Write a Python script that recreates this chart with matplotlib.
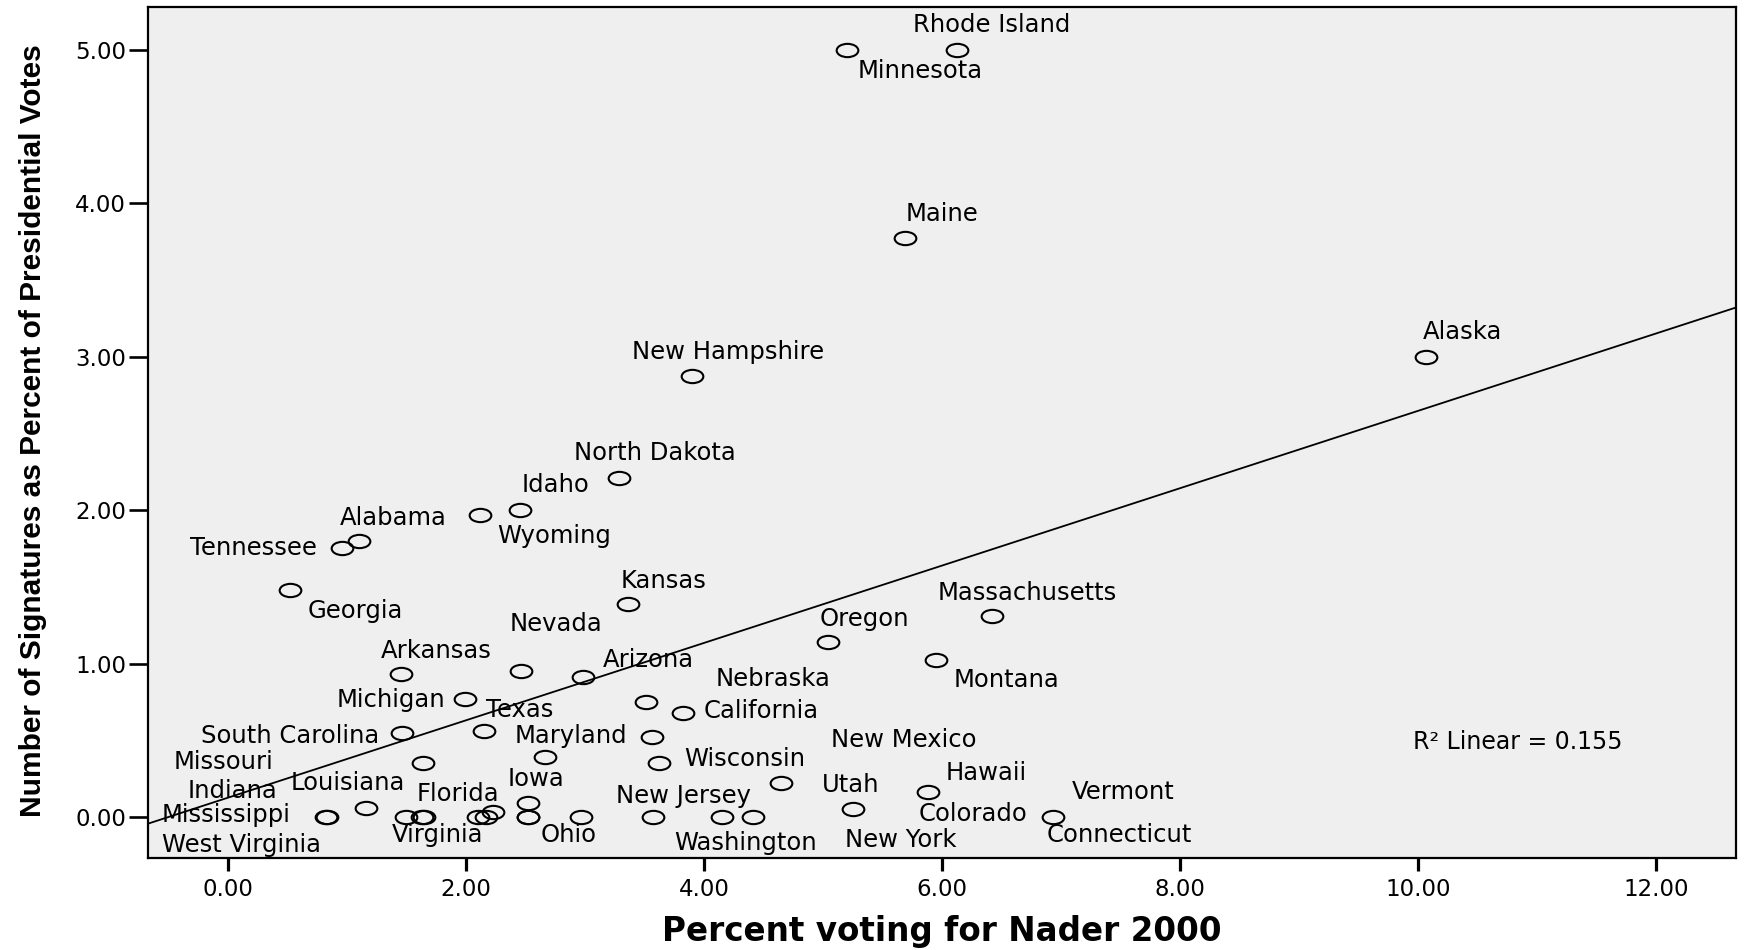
import numpy as np
import matplotlib
matplotlib.use('Agg')
import matplotlib.pyplot as plt
from matplotlib.path import Path
from matplotlib.transforms import Affine2D
from matplotlib import font_manager

# Nader 2000 share (%) and signatures needed as % of presidential votes, by state
states = ['Rhode Island', 'Minnesota', 'Maine', 'Alaska', 'New Hampshire',
          'North Dakota', 'Idaho', 'Wyoming', 'Alabama', 'Tennessee',
          'Georgia', 'Kansas', 'Massachusetts', 'Oregon', 'Montana',
          'Nevada', 'Arkansas', 'Arizona', 'Michigan', 'Nebraska',
          'California', 'Texas', 'South Carolina', 'New Mexico', 'Maryland',
          'Missouri', 'Wisconsin', 'Utah', 'Hawaii', 'Iowa',
          'Louisiana', 'Colorado', 'Mississippi', 'Indiana', 'Kentucky',
          'Florida', 'West Virginia', 'Pennsylvania', 'Virginia', 'Illinois',
          'Delaware', 'Ohio', 'New Jersey', 'New York', 'Washington',
          'Connecticut', 'Vermont']
nader_pct = [6.13, 5.20, 5.69, 10.07, 3.90,
             3.29, 2.45, 2.12, 1.10, 0.96,
             0.52, 3.36, 6.42, 5.04, 5.95,
             2.46, 1.45, 2.98, 1.99, 3.51,
             3.82, 2.15, 1.46, 3.56, 2.66,
             1.64, 3.62, 4.65, 5.88, 2.52,
             1.16, 5.25, 0.83, 0.82, 1.50,
             1.63, 1.65, 2.10, 2.17, 2.23,
             2.52, 2.52, 2.97, 3.57, 4.15,
             4.41, 6.93]
signatures_pct = [5.00, 5.00, 3.77, 3.00, 2.87,
                  2.21, 2.00, 1.97, 1.80, 1.75,
                  1.48, 1.39, 1.31, 1.14, 1.02,
                  0.95, 0.93, 0.91, 0.77, 0.75,
                  0.675, 0.56, 0.545, 0.52, 0.39,
                  0.35, 0.35, 0.22, 0.16, 0.09,
                  0.06, 0.05, 0.00, 0.00, 0.00,
                  0.00, 0.00, 0.00, 0.00, 0.03,
                  0.00, 0.00, 0.00, 0.00, 0.00,
                  0.00, 0.00]

# fit line as shown in the chart
fit_intercept = 0.126
fit_slope = 0.252
r2_text = 'R\u00b2 Linear = 0.155'

x_ticks = [0, 2, 4, 6, 8, 10, 12]
y_ticks = [0, 1, 2, 3, 4, 5]

# where the state names sit (label centre, data units)
label_pos = {
    'Rhode Island': (6.42, 5.16), 'Minnesota': (5.82, 4.86), 'Maine': (6.00, 3.93),
    'Alaska': (10.37, 3.16), 'New Hampshire': (4.20, 3.03), 'North Dakota': (3.59, 2.37),
    'Idaho': (2.75, 2.16), 'Alabama': (1.39, 1.95), 'Wyoming': (2.74, 1.83),
    'Tennessee': (0.21, 1.75), 'Georgia': (1.07, 1.34), 'Kansas': (3.66, 1.54),
    'Nevada': (2.76, 1.26), 'Massachusetts': (6.72, 1.46), 'Oregon': (5.35, 1.29),
    'Arkansas': (1.75, 1.08), 'Arizona': (3.53, 1.02), 'Nebraska': (4.58, 0.90),
    'Montana': (6.54, 0.89), 'Michigan': (1.37, 0.76), 'Texas': (2.45, 0.70),
    'California': (4.48, 0.69), 'South Carolina': (0.52, 0.53), 'Maryland': (2.88, 0.53),
    'New Mexico': (5.68, 0.50), 'Missouri': (-0.04, 0.36), 'Wisconsin': (4.34, 0.38),
    'Indiana': (0.04, 0.17), 'Louisiana': (1.01, 0.22), 'Iowa': (2.59, 0.25),
    'Hawaii': (6.37, 0.29), 'Florida': (1.93, 0.15), 'New Jersey': (3.83, 0.14),
    'Utah': (5.23, 0.21), 'Vermont': (7.52, 0.16), 'Mississippi': (-0.02, 0.01),
    'Colorado': (6.26, 0.02), 'Virginia': (1.76, -0.12), 'Ohio': (2.86, -0.12),
    'Connecticut': (7.49, -0.12), 'West Virginia': (0.11, -0.18),
    'Washington': (4.35, -0.17), 'New York': (5.65, -0.15),
}

W, H = 1747, 950
fig = plt.figure(figsize=(W / 100, H / 100), dpi=100)
ax = fig.add_axes([148 / W, 1 - 858 / H, (1736 - 148) / W, (858 - 7) / H])
ax.set_facecolor('#efefef')

# the original is stretched sideways, so the circles are wide ellipses
oval = Path.unit_circle().transformed(Affine2D().scale(1, 1 / 1.63))
ax.plot(nader_pct, signatures_pct, linestyle='none', marker=oval, markersize=15.6,
        markerfacecolor='none', markeredgecolor='black', markeredgewidth=1.5, zorder=3)

ax.axline((0, fit_intercept), slope=fit_slope, color='black', linewidth=1.3, zorder=2)

for name, (lx, ly) in label_pos.items():
    ax.text(lx, ly, name, ha='center', va='center', fontsize=17.5,
            family='DejaVu Sans', color='black', zorder=4)

ax.text(9.96, 0.49, r2_text, ha='left', va='center', fontsize=17,
        family='DejaVu Sans', color='black')

ax.set_xlim(-0.672, 12.672)
ax.set_ylim(-0.267, 5.277)
ax.set_xticks(x_ticks)
ax.set_yticks(y_ticks)
ax.set_xticklabels(['%.2f' % v for v in x_ticks])
ax.set_yticklabels(['%.2f' % v for v in y_ticks])
ax.tick_params(axis='x', length=9.4, width=2.3, pad=5, labelsize=16.5)
ax.tick_params(axis='y', length=13.7, width=1.9, pad=2, labelsize=16.5)
for sp in ax.spines.values():
    sp.set_linewidth(1.6)

ax.set_xlabel('Percent voting for Nader 2000', fontsize=23.5, fontweight='bold',
              family='DejaVu Sans', labelpad=10)

names = {f.name for f in font_manager.fontManager.ttflist}
if 'Liberation Sans Narrow' in names:
    ylab_family, ylab_size = 'Liberation Sans Narrow', 26
else:
    ylab_family, ylab_size = 'Liberation Sans', 21.5
ax.set_ylabel('Number of Signatures as Percent of Presidential Votes',
              fontsize=ylab_size, fontweight='bold', family=ylab_family)
ax.yaxis.set_label_coords(47 / W, (H - 431) / H, transform=fig.transFigure)

fig.savefig('out.png', dpi=100, facecolor='white')
